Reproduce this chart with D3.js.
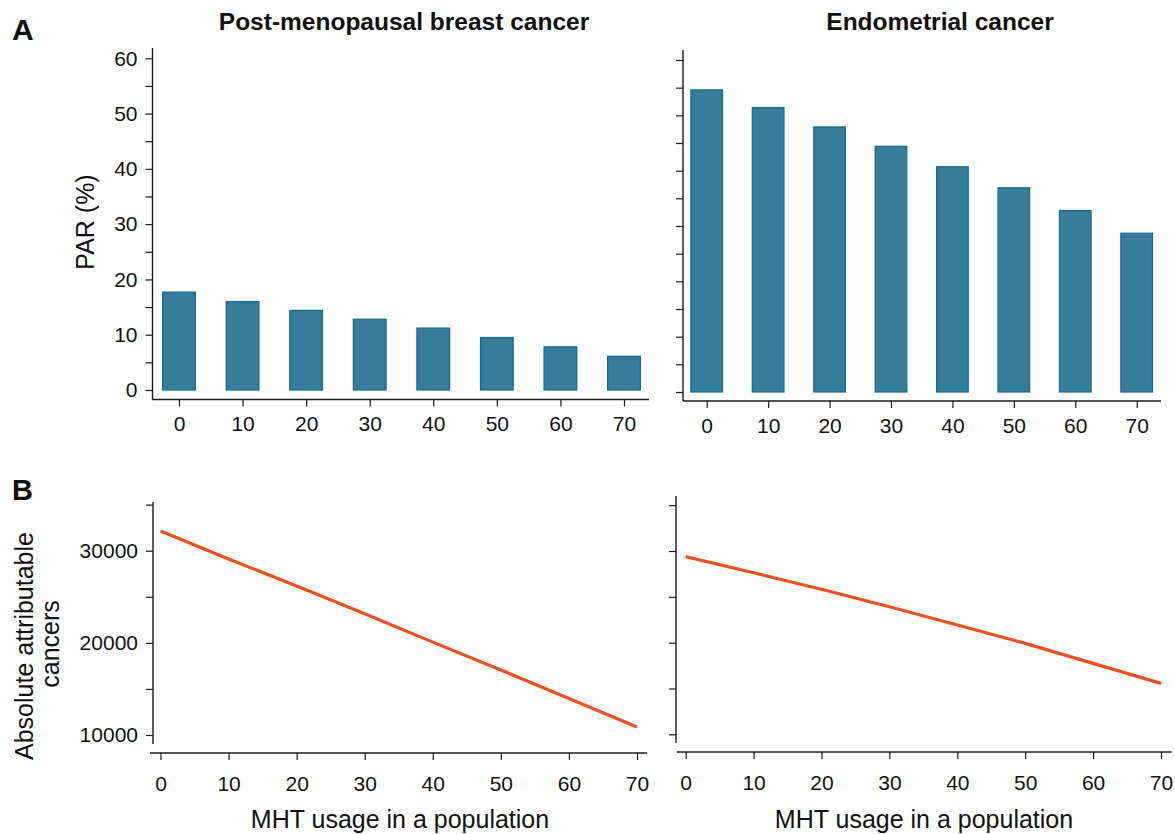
<!DOCTYPE html>
<html>
<head>
<meta charset="utf-8">
<script src="https://cdn.jsdelivr.net/npm/d3@7"></script>
<style>
body { margin: 0; background: #fff; }
text { font-family: "Liberation Sans", Arial, sans-serif; fill: #111; }
</style>
</head>
<body>
<div id="chart"></div>
<script>
// data
var usage = [0, 10, 20, 30, 40, 50, 60, 70];
var parBreast = [17.7, 16.0, 14.4, 12.8, 11.2, 9.5, 7.8, 6.1];
var parEndo = [54.6, 51.4, 47.9, 44.4, 40.7, 36.9, 32.8, 28.7];
var absBreast = [32140, 29100, 26170, 23160, 20080, 17050, 13960, 10860];
var absEndo = [29380, 27630, 25820, 23920, 21930, 19920, 17740, 15560];
var parTicks = d3.range(0, 61, 5);
var absTicks = d3.range(10000, 35001, 5000);
var titles = ["Post-menopausal breast cancer", "Endometrial cancer"];

var barColor = "#347e9b", barEdge = "#17678b", lineColor = "#f0501f", axisColor = "#1a1a1a";
var barSpan = 5.15; // bar width in usage units

var svg = d3.select("#chart").append("svg")
    .attr("width", 1175)
    .attr("height", 834);

function drawAxes(p, yTicks, yFmt, xPad, yPad){
    // axis lines
    svg.append("line").attr("x1", p.ax).attr("x2", p.ax).attr("y1", p.ay0).attr("y2", p.ay1)
        .attr("stroke", axisColor).attr("stroke-width", 1.4);
    svg.append("line").attr("x1", p.bx0).attr("x2", p.bx1).attr("y1", p.by).attr("y2", p.by)
        .attr("stroke", axisColor).attr("stroke-width", 1.4);

    var yAxis = d3.axisLeft(p.y).tickValues(yTicks).tickFormat(yFmt)
        .tickSize(7).tickPadding(yPad);
    var gy = svg.append("g").attr("transform", "translate(" + p.ax + ",0)").call(yAxis);

    var xAxis = d3.axisBottom(p.x).tickValues(usage).tickFormat(d3.format("d"))
        .tickSize(7).tickPadding(xPad);
    var gx = svg.append("g").attr("transform", "translate(0," + p.by + ")").call(xAxis);

    [gy, gx].forEach(function(g){
        g.select(".domain").remove();
        g.attr("font-size", null).attr("font-family", null);
        g.selectAll(".tick line").attr("stroke", axisColor).attr("stroke-width", 1.2);
        g.selectAll(".tick text").style("font-size", "21px")
            .style("font-family", "'Liberation Sans', Arial, sans-serif").attr("fill", "#111");
    });
}

// ---- panel A ----
var aLeft = {
    x: d3.scaleLinear().domain([0, 70]).range([179, 624]),
    y: d3.scaleLinear().domain([0, 60]).range([390, 58.3]),
    ax: 152.5, ay0: 48, ay1: 399.5, bx0: 152.5, bx1: 649, by: 399.5
};
var aRight = {
    x: d3.scaleLinear().domain([0, 70]).range([706.7, 1136.7]),
    y: d3.scaleLinear().domain([0, 60]).range([392, 60]),
    ax: 683, ay0: 50, ay1: 401, bx0: 683, bx1: 1161, by: 401
};

drawAxes(aLeft, parTicks, function(d){ return d % 10 === 0 ? d : ""; }, 10, 8);
drawAxes(aRight, parTicks, function(d){ return ""; }, 10, 8);

function drawBars(p, values){
    svg.append("g").selectAll("rect")
        .data(values)
        .enter()
        .append("rect")
        .attr("x", function(d, i){ return p.x(usage[i] - barSpan / 2); })
        .attr("width", function(d, i){ return p.x(usage[i] + barSpan / 2) - p.x(usage[i] - barSpan / 2); })
        .attr("y", function(d){ return p.y(d); })
        .attr("height", function(d){ return p.y(0) - p.y(d); })
        .attr("fill", barColor)
        .attr("stroke", barEdge)
        .attr("stroke-width", 1.2);
}
drawBars(aLeft, parBreast);
drawBars(aRight, parEndo);

// ---- panel B ----
var bLeft = {
    x: d3.scaleLinear().domain([0, 70]).range([160.5, 637]),
    y: d3.scaleLinear().domain([10000, 30000]).range([735, 550.7]),
    ax: 153, ay0: 502, ay1: 744, bx0: 150, bx1: 647, by: 753
};
var bRight = {
    x: d3.scaleLinear().domain([0, 70]).range([685.7, 1161]),
    y: d3.scaleLinear().domain([10000, 30000]).range([734.3, 551]),
    ax: 676, ay0: 496, ay1: 743, bx0: 677, bx1: 1171.5, by: 752
};

drawAxes(bLeft, absTicks, function(d){ return d % 10000 === 0 ? d3.format("d")(d) : ""; }, 16, 8);
drawAxes(bRight, absTicks, function(d){ return ""; }, 16, 8);

function drawLine(p, values){
    var line = d3.line()
        .x(function(d, i){ return p.x(usage[i]); })
        .y(function(d){ return p.y(d); });
    svg.append("path")
        .datum(values)
        .attr("d", line)
        .attr("fill", "none")
        .attr("stroke", lineColor)
        .attr("stroke-width", 3.2);
}
drawLine(bLeft, absBreast);
drawLine(bRight, absEndo);

// ---- text ----
svg.append("text").attr("x", 12).attr("y", 40).text("A")
    .attr("font-size", "30px").attr("font-weight", "bold");
svg.append("text").attr("x", 12).attr("y", 500).text("B")
    .attr("font-size", "29px").attr("font-weight", "bold");

svg.append("text").attr("x", 404).attr("y", 30).attr("text-anchor", "middle")
    .attr("font-size", "24.5px").attr("font-weight", "bold").text(titles[0]);
svg.append("text").attr("x", 940).attr("y", 30).attr("text-anchor", "middle")
    .attr("font-size", "24.5px").attr("font-weight", "bold").text(titles[1]);

svg.append("text").attr("transform", "translate(94,222) rotate(-90)")
    .attr("text-anchor", "middle").attr("font-size", "25px").text("PAR (%)");
svg.append("text").attr("transform", "translate(33,646) rotate(-90)")
    .attr("text-anchor", "middle").attr("font-size", "25px").text("Absolute attributable");
svg.append("text").attr("transform", "translate(59,644) rotate(-90)")
    .attr("text-anchor", "middle").attr("font-size", "25px").text("cancers");

svg.append("text").attr("x", 400).attr("y", 828).attr("text-anchor", "middle")
    .attr("font-size", "25px").text("MHT usage in a population");
svg.append("text").attr("x", 924).attr("y", 828).attr("text-anchor", "middle")
    .attr("font-size", "25px").text("MHT usage in a population");
</script>
</body>
</html>
